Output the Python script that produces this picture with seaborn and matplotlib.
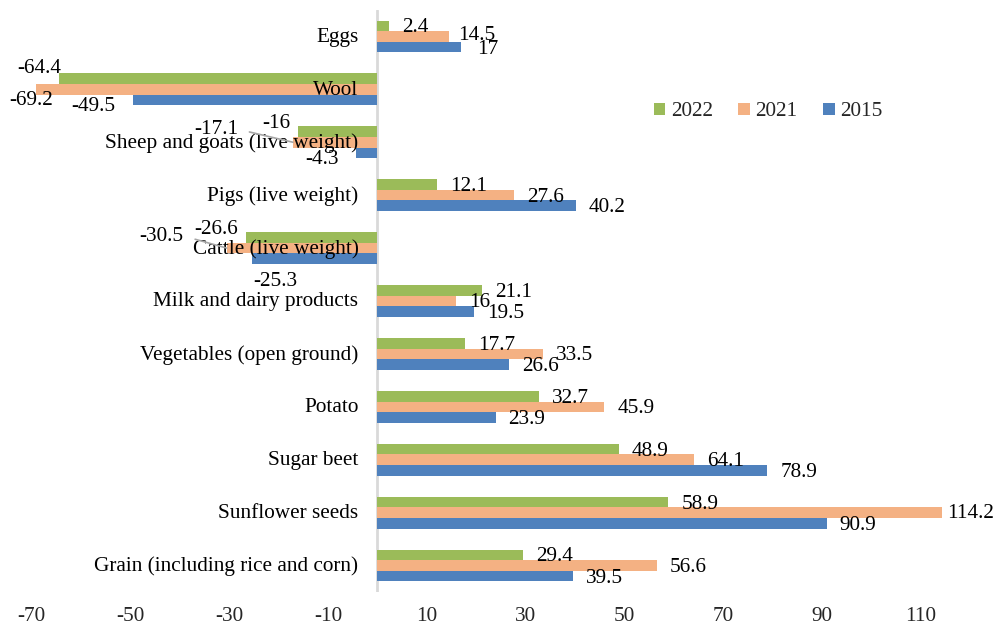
import matplotlib
matplotlib.use("Agg")
import matplotlib.pyplot as plt
import seaborn as sns
import pandas as pd

# ---- data ----
categories = ["Eggs", "Wool", "Sheep and goats (live weight)", "Pigs (live weight)",
              "Cattle (live weight)", "Milk and dairy products", "Vegetables (open ground)",
              "Potato", "Sugar beet", "Sunflower seeds", "Grain (including rice and corn)"]
years = ["2022", "2021", "2015"]
v2022 = [2.4, -64.4, -16, 12.1, -26.6, 21.1, 17.7, 32.7, 48.9, 58.9, 29.4]
v2021 = [14.5, -69.2, -17.1, 27.6, -30.5, 16, 33.5, 45.9, 64.1, 114.2, 56.6]
v2015 = [17, -49.5, -4.3, 40.2, -25.3, 19.5, 26.6, 23.9, 78.9, 90.9, 39.5]
x_ticks = [-70, -50, -30, -10, 10, 30, 50, 70, 90, 110]

series = {"2022": v2022, "2021": v2021, "2015": v2015}
df = pd.DataFrame([(c, y, series[y][i]) for y in years for i, c in enumerate(categories)],
                  columns=["category", "year", "value"])

colors = {"2022": "#9BBB59", "2021": "#F4B183", "2015": "#4F81BD"}
FONT = "Liberation Serif"
FS = 15.3

sns.set_theme(style="white")
plt.rcParams["font.family"] = [FONT, "DejaVu Serif"]

fig = plt.figure(figsize=(9.95, 6.26), dpi=100)
ax = fig.add_axes([0, (626 - 592) / 626, 1, 582 / 626])

sns.barplot(data=df, y="category", x="value", hue="year", order=categories,
            hue_order=years, palette=colors, orient="h", width=0.6, gap=0,
            dodge=True, ax=ax, saturation=1, legend=True, linewidth=0,
            edgecolor="none")

ax.set_xlim(-76.4, 125.0)
ax.set_ylim(len(categories) - 0.5, -0.5)
for s in ax.spines.values():
    s.set_visible(False)
ax.axvline(0, color="#D9D9D9", lw=2, zorder=0.5)

ax.set_xticks(x_ticks)
ax.set_xticklabels([str(t) for t in x_ticks], fontsize=FS, family=FONT)
ax.tick_params(axis="x", length=0, pad=11)
ax.set_yticks([])
ax.set_xlabel("")
ax.set_ylabel("")

# category labels next to zero line
for i, c in enumerate(categories):
    ax.annotate(c, xy=(0, i), xytext=(-19, -1), textcoords="offset pixels",
                ha="right", va="center", fontsize=FS, family=FONT, color="black", zorder=5)

# custom label offsets (pixels) for crowded labels: (year, category index) -> (dx, dy, ha)
custom = {
    ("2021", 0): (9, 1, "left"),
    ("2015", 0): (16, -2, "left"),
    ("2022", 1): (-20, 10, "center"),
    ("2021", 1): (-4, -11, "center"),
    ("2015", 1): (-40, -7, "center"),
    ("2022", 2): (-22, 8, "center"),
    ("2021", 2): (-77, 13, "center"),
    ("2015", 2): (-34, -7, "center"),
    ("2022", 4): (-30, 8, "center"),
    ("2021", 4): (-65, 12, "center"),
    ("2015", 4): (23, -23, "center"),
    ("2021", 9): (5, -1, "left"),
}
leaders = {("2021", 2), ("2021", 4)}

for y, cont in zip(years, ax.containers):
    vals = series[y]
    for i, bar in enumerate(cont):
        v = vals[i]
        xe = bar.get_width()
        yc = bar.get_y() + bar.get_height() / 2
        if (y, i) in custom:
            dx, dy, ha = custom[(y, i)]
        else:
            dx, dy, ha = (13, -2, "left") if v >= 0 else (-13, -2, "right")
        label = f"{v:g}"
        kw = {}
        if (y, i) in leaders:
            kw["arrowprops"] = dict(arrowstyle="-", color="#A6A6A6", lw=1.2,
                                    shrinkA=6, shrinkB=0, relpos=(1, 0.5))
        ax.annotate(label, xy=(xe, yc), xytext=(dx, dy), textcoords="offset pixels",
                    ha=ha, va="center", fontsize=FS, family=FONT, color="black",
                    zorder=6, **kw)

# legend
handles, labels = ax.get_legend_handles_labels()
if ax.get_legend() is not None:
    ax.get_legend().remove()
leg = ax.legend(handles, labels, ncol=3, loc="center",
                bbox_to_anchor=(768 / 995, 1 - 112 / 626), bbox_transform=fig.transFigure,
                frameon=False, handlelength=0.55, handleheight=0.55, handletextpad=0.25,
                columnspacing=1.2, prop={"family": FONT, "size": FS})

fig.savefig("out.png", dpi=100)
